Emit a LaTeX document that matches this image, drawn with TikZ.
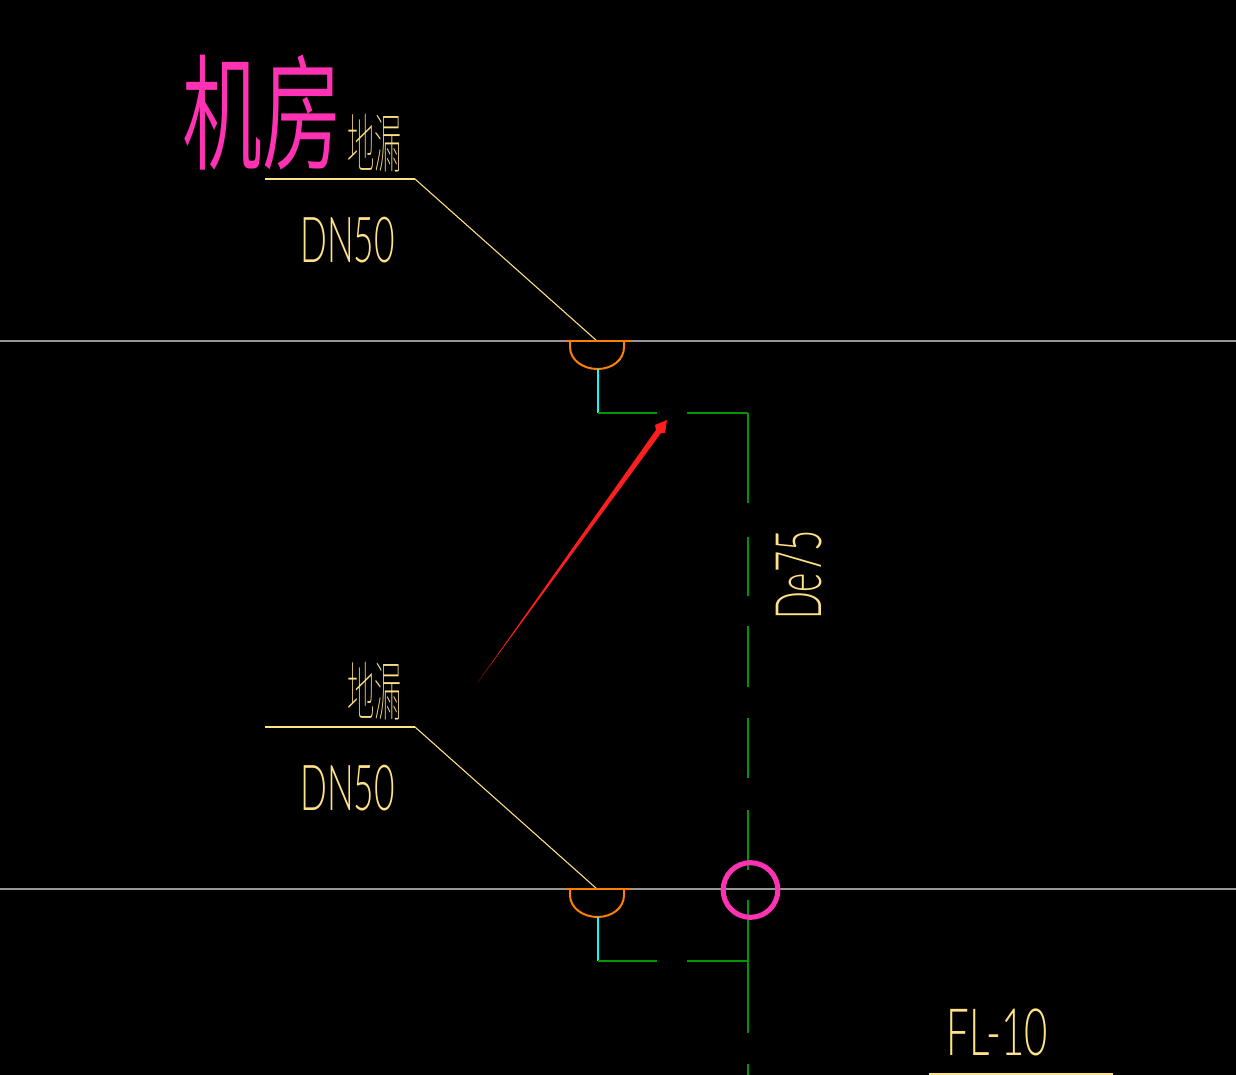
\documentclass[tikz,border=0pt]{standalone}
\usepackage{fontspec}
\usepackage{graphicx}
\newfontfamily\roomfont{Noto Sans CJK SC DemiLight}
\newfontfamily\cjkfont{Noto Sans CJK SC Thin}
\newfontfamily\cadfont{Lato Light}
\definecolor{cadgray}{RGB}{150,150,150}
\definecolor{cadyellow}{RGB}{255,225,135}
\definecolor{cadorange}{RGB}{255,127,0}
\definecolor{cadcyan}{RGB}{0,255,255}
\definecolor{cadgreen}{RGB}{0,150,0}
\definecolor{cadpink}{RGB}{255,50,180}
\definecolor{cadred}{RGB}{255,30,30}
\newcommand{\fitbox}[3]{\resizebox{#1pt}{#2pt}{#3}}
\tikzset{
	txt/.style={inner sep=0pt,outer sep=0pt,anchor=center},
	floorline/.style={cadgray,line width=1.3pt},
	leader/.style={cadyellow,line width=.8pt},
	drain/.style={cadorange,line width=1.5pt},
	riser/.style={cadcyan,line width=1.6pt},
	pipe/.style={cadgreen,line width=1.6pt},
}
\begin{document}
\begin{tikzpicture}[x=.75pt,y=-.75pt]
	\fill [black] (0,0) rectangle (1236,1075);
	\useasboundingbox (0,0) rectangle (1236,1075);

	\coordinate (f1l) at (0,341); \coordinate (f1r) at (1236,341);
	\coordinate (f2l) at (0,889); \coordinate (f2r) at (1236,889);
	\draw [floorline] (f1l) -- (f1r);
	\draw [floorline] (f2l) -- (f2r);

	% upper drain
	\coordinate (a1) at (265,179); \coordinate (b1) at (415,179); \coordinate (c1) at (597,341);
	\draw [leader,line width=1.4pt] (a1) -- (b1);
	\draw [leader] (b1) -- (c1);
	\draw [drain] (565,341) -- (632,341);
	\draw [drain] (570,341) -- (570,347) .. controls (570,360) and (583,369) .. (597.5,369) .. controls (612,369) and (624,360) .. (624,347) -- (624,341);
	\coordinate (d1) at (598,369); \coordinate (e1) at (598,413);
	\coordinate (g1) at (657,413); \coordinate (h1) at (687,413); \coordinate (k1) at (748,413);
	\draw [riser] (d1) -- (e1);
	\draw [pipe] (e1) -- (g1);
	\draw [pipe] (h1) -- (k1);

	% lower drain
	\coordinate (a2) at (265,727); \coordinate (b2) at (415,727); \coordinate (c2) at (597,889);
	\draw [leader,line width=1.4pt] (a2) -- (b2);
	\draw [leader] (b2) -- (c2);
	\draw [drain] (565,889) -- (632,889);
	\draw [drain] (570,889) -- (570,895) .. controls (570,908) and (583,917) .. (597.5,917) .. controls (612,917) and (624,908) .. (624,895) -- (624,889);
	\coordinate (d2) at (598,917); \coordinate (e2) at (598,961);
	\coordinate (g2) at (657,961); \coordinate (h2) at (687,961); \coordinate (k2) at (748,961);
	\draw [riser] (d2) -- (e2);
	\draw [pipe] (e2) -- (g2);
	\draw [pipe] (h2) -- (k2);

	% stack
	\foreach \ya/\yb in {413/503,537/596,626/687,718/778,810/870,900/1033,1064/1075}
		\draw [pipe] (748,\ya) -- (748,\yb);

	\node [draw=cadpink,line width=3.8pt,circle,minimum size=41pt,inner sep=0pt] (ring) at (750.5,890) {};

	% red pointer
	\coordinate (tip) at (667,420);
	\coordinate (tail) at (478,682);
	\fill [cadred] (tail) -- (656,430) -- (655,425) -- (tip) -- (665,433) -- (661,433) -- cycle;

	% labels
	\node [txt,text=cadpink] (room) at (262,113) {\fitbox{120}{79}{\roomfont 机房}};
	\node [txt,text=cadyellow] (fd1) at (374.5,143.5) {\fitbox{41}{40}{\cjkfont 地漏}};
	\node [txt,text=cadyellow] (dn1) at (347.5,240) {\fitbox{71}{34}{\cadfont DN50}};
	\node [txt,text=cadyellow] (fd2) at (374.5,691.5) {\fitbox{41}{40}{\cjkfont 地漏}};
	\node [txt,text=cadyellow] (dn2) at (347.5,788) {\fitbox{71}{34}{\cadfont DN50}};
	\node [txt,text=cadyellow,rotate=90] (size) at (799,575) {\fitbox{67}{34}{\cadfont De75}};
	\node [txt,text=cadyellow] (fl) at (997,1032) {\fitbox{76}{35}{\cadfont FL-10}};
	\coordinate (u1) at (929,1074); \coordinate (u2) at (1113,1074);
	\draw [leader,line width=1.4pt] (u1) -- (u2);
\end{tikzpicture}
\end{document}
